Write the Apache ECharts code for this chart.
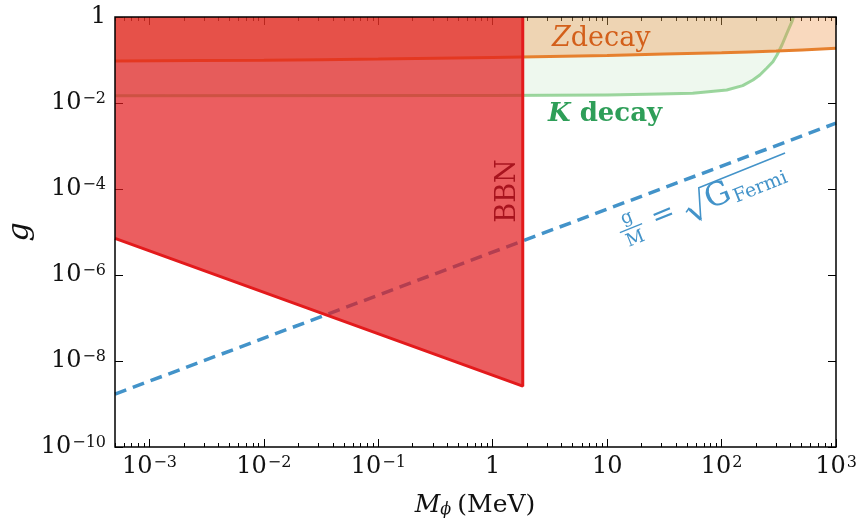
<!DOCTYPE html>
<html><head><meta charset="utf-8">
<script src="https://cdn.jsdelivr.net/npm/echarts@6/dist/echarts.min.js"></script>
<style>html,body{margin:0;padding:0;background:#fff}#c{width:860px;height:528px}</style>
</head><body><div id="c"></div>
<script>
// ---- data ----
const xMajorTicks = [1e-3, 1e-2, 1e-1, 1, 10, 100, 1000];
const yMajorTicks = [1e-10, 1e-8, 1e-6, 1e-4, 1e-2, 1];
const bbnMass = [5e-4, 1.83, 1.83];
const bbnCoupling = [7.1e-6, 2.6e-9, 1];
const zMass = [5e-4, 1e-2, 1e-1, 1, 10, 100, 300, 1000];
const zCoupling = [0.095, 0.099, 0.105, 0.115, 0.128, 0.148, 0.162, 0.187];
const kMass = [5e-4, 1, 10, 28.8, 56, 111, 153, 188, 216, 249, 281, 305, 337, 373, 412, 425];
const kCoupling = [0.0148, 0.0149, 0.0153, 0.0162, 0.0168, 0.0201, 0.0253, 0.0343, 0.0448, 0.0652, 0.0913, 0.131, 0.223, 0.425, 0.778, 1];
const fermiMass = [5e-4, 1000];
const fermiCoupling = [1.7e-9, 3.4e-3];

const xMinorTicks = [];
for (let e = -4; e < 3; e++) for (let k = 2; k < 10; k++) {
  const v = k * Math.pow(10, e);
  if (v >= 5e-4 && v <= 1000) xMinorTicks.push(v);
}
const zip = (a, b) => a.map((v, i) => [v, b[i]]);
const SERIF = 'DejaVu Serif';
function fmt(v) {
  const e = Math.round(Math.log10(v));
  if (e === 0) return '1';
  if (e === 1) return '10';
  return '10{sup|' + (e < 0 ? '\u2212' : '') + Math.abs(e) + '}';
}
const labelRich = { sup: { fontFamily: SERIF, fontSize: 16, verticalAlign: 'top', color: '#111', padding: [0, 0, 0, 1] } };
const XMIN = 5e-4, XMAX = 1000, YMIN = 1e-10, YMAX = 1;

function xAx(pos, ticks, len, labels) {
  return {
    type: 'log', logBase: 10, min: XMIN, max: XMAX, position: pos,
    axisLine: { show: false },
    splitLine: { show: false },
    axisTick: { show: true, inside: true, length: len, customValues: ticks, lineStyle: { color: '#000', width: 1 } },
    axisLabel: labels ? { show: true, customValues: ticks, formatter: fmt, fontFamily: SERIF, fontSize: 24, color: '#111', margin: 8, rich: labelRich } : { show: false }
  };
}
function yAx(pos, labels) {
  return {
    type: 'log', logBase: 10, min: YMIN, max: YMAX, position: pos,
    axisLine: { show: false },
    splitLine: { show: false },
    axisTick: { show: true, inside: true, length: 8, customValues: yMajorTicks, lineStyle: { color: '#000', width: 1 } },
    axisLabel: labels ? { show: true, customValues: yMajorTicks, formatter: fmt, fontFamily: SERIF, fontSize: 24, color: '#111', margin: 9, rich: labelRich } : { show: false }
  };
}

const chart = echarts.init(document.getElementById('c'), null, { renderer: 'canvas' });
const ang = 0.384;
const BLUE = '#4393c9';
chart.setOption({
  animation: false,
  backgroundColor: '#fff',
  grid: { left: 115, right: 24, top: 17, bottom: 81, show: true, borderColor: '#000', borderWidth: 1.5, backgroundColor: 'transparent', z: 10 },
  xAxis: [xAx('bottom', xMajorTicks, 8, true), xAx('bottom', xMinorTicks, 4, false), xAx('top', xMajorTicks, 8, false), xAx('top', xMinorTicks, 4, false)],
  yAxis: [yAx('left', true), yAx('right', false)],
  series: [
    { type: 'line', name: 'K decay', data: zip(kMass, kCoupling), symbol: 'none',
      lineStyle: { color: 'rgba(116,196,118,0.7)', width: 3, join: 'round' }, areaStyle: { color: 'rgba(116,196,118,0.18)', origin: 'end' }, z: 2 },
    { type: 'line', name: 'Z decay', data: zip(zMass, zCoupling), symbol: 'none', smooth: 0.3,
      lineStyle: { color: '#e6802e', width: 3 }, areaStyle: { color: 'rgba(238,148,70,0.5)', origin: 'end' }, z: 3 },
    { type: 'line', name: 'G Fermi', data: zip(fermiMass, fermiCoupling), symbol: 'none',
      lineStyle: { color: BLUE, width: 3.5, type: [12, 7] }, z: 4 },
    { type: 'line', name: 'BBN', data: zip(bbnMass, bbnCoupling), symbol: 'none',
      lineStyle: { color: '#e31a1c', width: 3 }, areaStyle: { color: 'rgba(227,26,28,0.7)', origin: 'end', opacity: 1 }, z: 5 }
  ],
  graphic: [
    { type: 'text', x: 552, y: 39, z: 20, style: { text: '{i|Z}decay', fill: '#d35f1a', fontFamily: SERIF, fontSize: 27, verticalAlign: 'middle',
        rich: { i: { fontStyle: 'italic', fontFamily: SERIF, fontSize: 27, fill: '#d35f1a' } } } },
    { type: 'text', x: 548, y: 114, z: 20, style: { text: '{i|K} decay', fill: '#2e9e58', fontFamily: SERIF, fontSize: 26, fontWeight: 'bold', verticalAlign: 'middle',
        rich: { i: { fontStyle: 'italic', fontWeight: 'bold', fontFamily: SERIF, fontSize: 26, fill: '#2e9e58' } } } },
    { type: 'text', x: 508, y: 191, rotation: Math.PI / 2, z: 20, style: { text: 'BBN', fill: '#a8141e', fontFamily: SERIF, fontSize: 27, align: 'center', verticalAlign: 'middle' } },
    { type: 'text', x: 20, y: 232, rotation: Math.PI / 2, z: 20, style: { text: 'g', fill: '#111', fontFamily: SERIF, fontStyle: 'italic', fontSize: 30, align: 'center', verticalAlign: 'middle' } },
    { type: 'text', x: 475, y: 505, z: 20, style: { text: '{i|M}{s|\u03d5}(MeV)', fill: '#111', fontFamily: SERIF, fontSize: 25, align: 'center', verticalAlign: 'middle',
        rich: { i: { fontStyle: 'italic', fontFamily: SERIF, fontSize: 25 }, s: { fontStyle: 'italic', fontFamily: SERIF, fontSize: 16, verticalAlign: 'bottom', padding: [0, 6, 0, 0] } } } },
    { type: 'group', x: 618, y: 228, rotation: ang, z: 20, children: [
      { type: 'text', x: 12, y: 3, style: { text: 'g', fill: BLUE, fontFamily: SERIF, fontSize: 18, align: 'center', verticalAlign: 'bottom' } },
      { type: 'line', shape: { x1: 0, y1: 5, x2: 24, y2: 5 }, style: { stroke: BLUE, lineWidth: 1.3 } },
      { type: 'text', x: 12, y: 8, style: { text: 'M', fill: BLUE, fontFamily: SERIF, fontSize: 18, align: 'center', verticalAlign: 'top' } },
      { type: 'text', x: 35, y: 5.5, style: { text: '=', fill: BLUE, fontFamily: SERIF, fontSize: 28, align: 'left', verticalAlign: 'middle' } },
      { type: 'polyline', shape: { points: [[69, 11], [73, 8.5], [80, 23], [90, -7], [183, -7]] }, style: { stroke: BLUE, lineWidth: 1.6, fill: null, lineJoin: 'miter' } },
      { type: 'line', shape: { x1: 73.5, y1: 9.5, x2: 80, y2: 23 }, style: { stroke: BLUE, lineWidth: 3 } },
      { type: 'text', x: 92, y: 24.5, style: { text: 'G', fill: BLUE, fontFamily: SERIF, fontSize: 32, align: 'left', verticalAlign: 'bottom' } },
      { type: 'text', x: 119, y: 25.5, style: { text: 'Fermi', fill: BLUE, fontFamily: SERIF, fontSize: 19, align: 'left', verticalAlign: 'bottom' } }
    ] }
  ]
});
</script></body></html>
